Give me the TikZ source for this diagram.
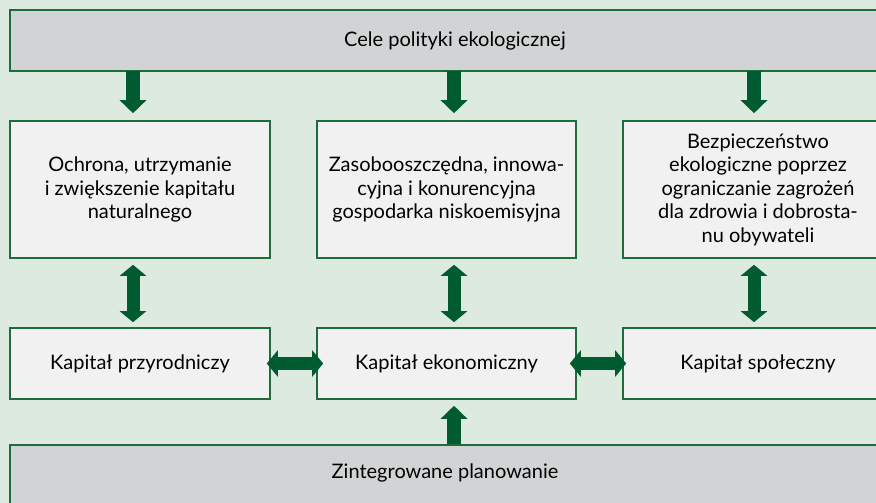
\documentclass[tikz,border=0pt]{standalone}
\usepackage{fontspec}
\setmainfont{Lato}
\usetikzlibrary{arrows.meta}
\definecolor{bgc}{HTML}{DDEADF}
\definecolor{barc}{HTML}{D1D3D4}
\definecolor{boxc}{HTML}{F1F1F1}
\definecolor{edgec}{HTML}{1E6B3C}
\definecolor{arrc}{HTML}{005C30}
\begin{document}
\begin{tikzpicture}[x=1pt,y=-1pt,
  bar/.style={draw=edgec,line width=1.6pt,fill=barc,font=\fontsize{20}{23.5}\selectfont,inner sep=0pt},
  box/.style={draw=edgec,line width=1.6pt,fill=boxc,font=\fontsize{20}{23.5}\selectfont,align=center,inner sep=0pt},
  blk/.style={draw=arrc,line width=14pt,-{Triangle[width=26pt,length=13pt]}},
  dblk/.style={draw=arrc,line width=13pt,{Triangle[width=26pt,length=11pt]}-{Triangle[width=26pt,length=11pt]}}]
\useasboundingbox (0,0) rectangle (876,503);
\fill[bgc] (0,0) rectangle (876,503);
\begin{scope}
\clip (0,0) rectangle (876,503);
\node[bar,minimum width=890,minimum height=61] (top) at (455,40.5) {Cele polityki ekologicznej};
\node[box,minimum width=260,minimum height=137] (a1) at (140,189.5) {Ochrona, utrzymanie\\i zwiększenie kapitału\\naturalnego};
\node[box,minimum width=259,minimum height=137] (b1) at (446.5,189.5) {Zasobooszczędna, innowa-\\cyjna i konurencyjna\\gospodarka niskoemisyjna};
\node[box,minimum width=270,minimum height=137] (c1) at (758,189.5) {Bezpieczeństwo\\ekologiczne poprzez\\ograniczanie zagrożeń\\dla zdrowia i dobrosta-\\nu obywateli};
\node[box,minimum width=260,minimum height=71] (a2) at (140,363.5) {Kapitał przyrodniczy};
\node[box,minimum width=259,minimum height=71] (b2) at (446.5,363.5) {Kapitał ekonomiczny};
\node[box,minimum width=270,minimum height=71] (c2) at (758,363.5) {Kapitał społeczny};
\node[bar,minimum width=870,minimum height=70,text depth=17pt] (bot) at (445,480) {Zintegrowane planowanie};
\coordinate (t1) at (133,71);
\coordinate (t2) at (454,71);
\coordinate (t3) at (754,71);
\draw[blk,shorten >=7pt] (t1) -- (t1 |- a1.north);
\draw[blk,shorten >=7pt] (t2) -- (t2 |- b1.north);
\draw[blk,shorten >=7pt] (t3) -- (t3 |- c1.north);
\draw[dblk,shorten <=6pt,shorten >=5pt] (t1 |- a1.south) -- (t1 |- a2.north);
\draw[dblk,shorten <=6pt,shorten >=5pt] (t2 |- b1.south) -- (t2 |- b2.north);
\draw[dblk,shorten <=6pt,shorten >=5pt] (t3 |- c1.south) -- (t3 |- c2.north);
\draw[dblk,shorten <=-4pt,shorten >=-7pt] (a2.east) -- (b2.west);
\draw[dblk,shorten <=-7pt,shorten >=-4pt] (b2.east) -- (c2.west);
\draw[blk,shorten >=6pt] (t2 |- bot.north) -- (t2 |- b2.south);
\end{scope}
\end{tikzpicture}
\end{document}
